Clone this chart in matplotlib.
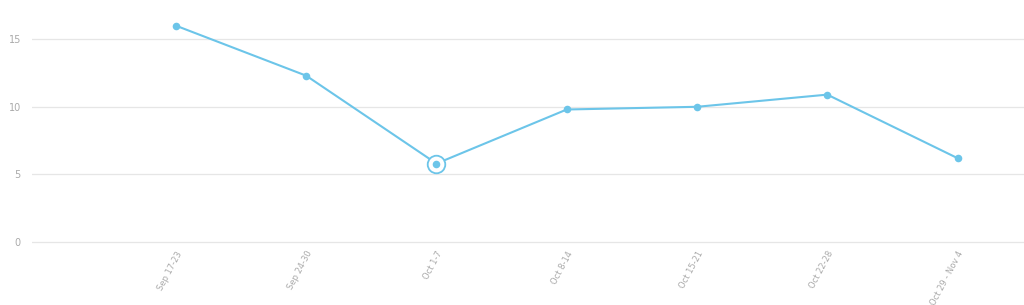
import matplotlib
matplotlib.use("Agg")
import matplotlib.pyplot as plt

weeks = ["Sep 17-23", "Sep 24-30", "Oct 1-7", "Oct 8-14", "Oct 15-21", "Oct 22-28", "Oct 29 - Nov 4"]
values = [16.0, 12.3, 5.8, 9.8, 10.0, 10.9, 6.2]
highlight = 2
y_ticks = [0, 5, 10, 15]

line_color = "#6cc5e9"
grid_color = "#e6e6e6"
text_color = "#aaaaaa"

fig = plt.figure(figsize=(10.24, 3.05), dpi=100)
ax = fig.add_axes([32 / 1024, 1 - 244 / 305, 1 - 32 / 1024, 244 / 305])

x = list(range(len(weeks)))
ax.plot(x, values, color=line_color, lw=1.5, zorder=3)
ax.scatter(x, values, s=30, color=line_color, zorder=4, linewidths=0)
# hovered point ring
ax.scatter([highlight], [values[highlight]], s=160, facecolor="white",
           edgecolor=line_color, linewidths=1.3, zorder=5)
ax.scatter([highlight], [values[highlight]], s=30, color=line_color, zorder=6, linewidths=0)

ax.set_xlim(-1.105, 6.51)
ax.set_ylim(-0.15, 17.9)
ax.set_yticks(y_ticks)
ax.set_xticks(x)
ax.set_xticklabels(weeks, rotation=62, ha="right", rotation_mode="anchor")
ax.tick_params(axis="x", length=0, pad=4, labelsize=6, labelcolor=text_color)
ax.tick_params(axis="y", length=0, pad=8, labelsize=7, labelcolor=text_color)
ax.grid(axis="y", color=grid_color, lw=0.9)
ax.set_axisbelow(True)
for s in ax.spines.values():
    s.set_visible(False)

fig.savefig("out.png", dpi=100)
